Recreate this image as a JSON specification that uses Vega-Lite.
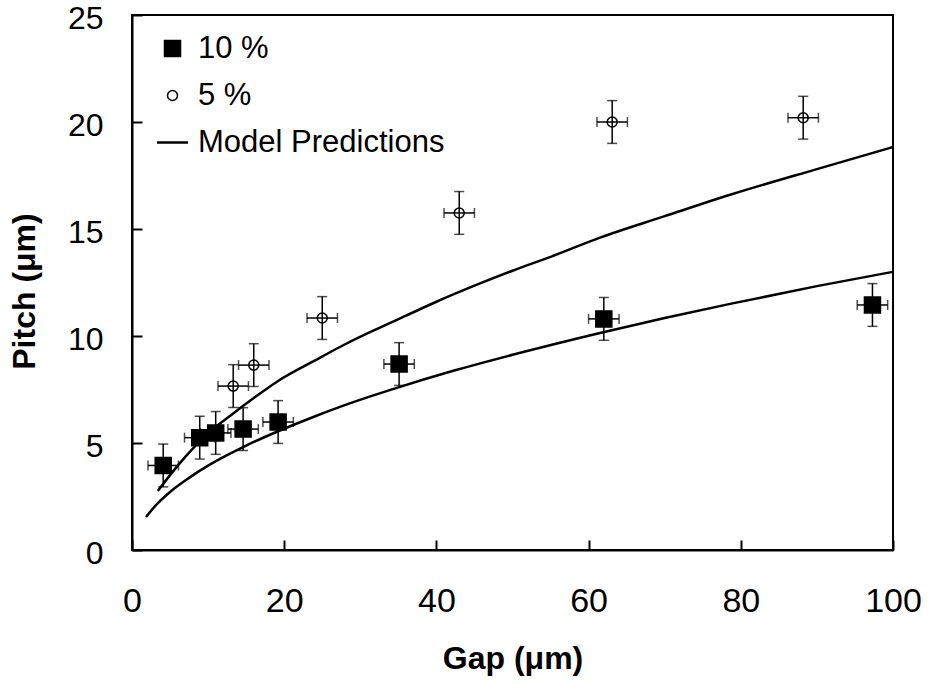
{
  "$schema": "https://vega.github.io/schema/vega-lite/v6.json",
  "width": 761,
  "height": 535,
  "autosize": {"type": "none"},
  "padding": {"left": 132, "top": 15, "right": 36, "bottom": 134},
  "background": "white",
  "config": {
    "view": {"stroke": "black", "strokeWidth": 2},
    "font": "Liberation Sans",
    "axis": {
      "grid": false,
      "domainColor": "black",
      "domainWidth": 2,
      "tickColor": "black",
      "tickWidth": 2,
      "tickSize": -10,
      "labelFlush": false,
      "labelFont": "Liberation Sans",
      "labelFontSize": 34,
      "labelColor": "black",
      "titleFont": "Liberation Sans",
      "titleFontSize": 32,
      "titleFontWeight": "bold",
      "titleColor": "black"
    },
    "legend": {
      "orient": "none",
      "legendX": 25,
      "legendY": 18,
      "labelFont": "Liberation Sans",
      "labelFontSize": 31,
      "labelColor": "black",
      "labelOffset": 10,
      "labelLimit": 500,
      "rowPadding": 15,
      "symbolStrokeColor": "black",
      "symbolStrokeWidth": 2,
      "symbolOpacity": 1,
      "title": null
    }
  },
  "datasets": {
    "points": [
      {"series": "10 %", "gap": 4.1, "pitch": 3.95, "gap_lo": 2.1, "gap_hi": 6.1, "pitch_lo": 2.95, "pitch_hi": 4.95},
      {"series": "10 %", "gap": 8.9, "pitch": 5.25, "gap_lo": 6.9, "gap_hi": 10.9, "pitch_lo": 4.25, "pitch_hi": 6.25},
      {"series": "10 %", "gap": 11.0, "pitch": 5.47, "gap_lo": 9.0, "gap_hi": 13.0, "pitch_lo": 4.47, "pitch_hi": 6.47},
      {"series": "10 %", "gap": 14.6, "pitch": 5.65, "gap_lo": 12.6, "gap_hi": 16.6, "pitch_lo": 4.65, "pitch_hi": 6.65},
      {"series": "10 %", "gap": 19.2, "pitch": 5.98, "gap_lo": 17.2, "gap_hi": 21.2, "pitch_lo": 4.98, "pitch_hi": 6.98},
      {"series": "10 %", "gap": 35.1, "pitch": 8.69, "gap_lo": 33.1, "gap_hi": 37.1, "pitch_lo": 7.69, "pitch_hi": 9.69},
      {"series": "10 %", "gap": 62.0, "pitch": 10.8, "gap_lo": 60.0, "gap_hi": 64.0, "pitch_lo": 9.8, "pitch_hi": 11.8},
      {"series": "10 %", "gap": 97.3, "pitch": 11.45, "gap_lo": 95.3, "gap_hi": 99.3, "pitch_lo": 10.45, "pitch_hi": 12.45},
      {"series": "5 %", "gap": 13.3, "pitch": 7.66, "gap_lo": 11.3, "gap_hi": 15.3, "pitch_lo": 6.66, "pitch_hi": 8.66},
      {"series": "5 %", "gap": 16.0, "pitch": 8.64, "gap_lo": 14.0, "gap_hi": 18.0, "pitch_lo": 7.64, "pitch_hi": 9.64},
      {"series": "5 %", "gap": 25.0, "pitch": 10.84, "gap_lo": 23.0, "gap_hi": 27.0, "pitch_lo": 9.84, "pitch_hi": 11.84},
      {"series": "5 %", "gap": 43.0, "pitch": 15.75, "gap_lo": 41.0, "gap_hi": 45.0, "pitch_lo": 14.75, "pitch_hi": 16.75},
      {"series": "5 %", "gap": 63.1, "pitch": 20.0, "gap_lo": 61.1, "gap_hi": 65.1, "pitch_lo": 19.0, "pitch_hi": 21.0},
      {"series": "5 %", "gap": 88.2, "pitch": 20.2, "gap_lo": 86.2, "gap_hi": 90.2, "pitch_lo": 19.2, "pitch_hi": 21.2}
    ],
    "model": [
      {"curve": "upper", "gap": 3.4, "pitch": 2.76},
      {"curve": "upper", "gap": 5, "pitch": 3.5},
      {"curve": "upper", "gap": 7, "pitch": 4.35},
      {"curve": "upper", "gap": 10, "pitch": 5.45},
      {"curve": "upper", "gap": 13, "pitch": 6.3},
      {"curve": "upper", "gap": 16, "pitch": 7.1},
      {"curve": "upper", "gap": 19.2, "pitch": 7.9},
      {"curve": "upper", "gap": 24, "pitch": 8.85},
      {"curve": "upper", "gap": 28.2, "pitch": 9.65},
      {"curve": "upper", "gap": 32, "pitch": 10.3},
      {"curve": "upper", "gap": 36, "pitch": 10.95},
      {"curve": "upper", "gap": 40, "pitch": 11.6},
      {"curve": "upper", "gap": 45, "pitch": 12.35},
      {"curve": "upper", "gap": 50, "pitch": 13.05},
      {"curve": "upper", "gap": 55, "pitch": 13.7},
      {"curve": "upper", "gap": 61.5, "pitch": 14.6},
      {"curve": "upper", "gap": 70, "pitch": 15.6},
      {"curve": "upper", "gap": 78.6, "pitch": 16.6},
      {"curve": "upper", "gap": 90, "pitch": 17.8},
      {"curve": "upper", "gap": 100, "pitch": 18.83},
      {"curve": "lower", "gap": 1.84, "pitch": 1.54},
      {"curve": "lower", "gap": 3, "pitch": 2.04},
      {"curve": "lower", "gap": 5, "pitch": 2.71},
      {"curve": "lower", "gap": 7.5, "pitch": 3.37},
      {"curve": "lower", "gap": 10, "pitch": 3.94},
      {"curve": "lower", "gap": 12.5, "pitch": 4.43},
      {"curve": "lower", "gap": 15, "pitch": 4.88},
      {"curve": "lower", "gap": 19.2, "pitch": 5.55},
      {"curve": "lower", "gap": 24, "pitch": 6.24},
      {"curve": "lower", "gap": 28.6, "pitch": 6.85},
      {"curve": "lower", "gap": 35, "pitch": 7.6},
      {"curve": "lower", "gap": 42, "pitch": 8.35},
      {"curve": "lower", "gap": 50, "pitch": 9.12},
      {"curve": "lower", "gap": 61.5, "pitch": 10.14},
      {"curve": "lower", "gap": 70, "pitch": 10.84},
      {"curve": "lower", "gap": 78.6, "pitch": 11.5},
      {"curve": "lower", "gap": 90, "pitch": 12.33},
      {"curve": "lower", "gap": 100, "pitch": 13.0}
    ]
  },
  "layer": [
    {
      "data": {"name": "model"},
      "mark": {"type": "line", "color": "black", "strokeWidth": 2.5, "interpolate": "monotone"},
      "encoding": {
        "x": {"field": "gap", "type": "quantitative", "scale": {"domain": [0, 100], "nice": false, "zero": false}, "axis": {"values": [0, 20, 40, 60, 80, 100], "title": "Gap (μm)", "labelPadding": 44, "titlePadding": 25}},
        "y": {"field": "pitch", "type": "quantitative", "scale": {"domain": [0, 25], "nice": false, "zero": false}, "axis": {"values": [0, 5, 10, 15, 20, 25], "title": "Pitch (μm)", "labelFontSize": 32, "labelPadding": 39, "labelOffset": 3, "titlePadding": 26, "titleY": 276}},
        "detail": {"field": "curve"}
      }
    },
    {
      "data": {"name": "points"},
      "mark": {"type": "rule", "color": "black", "strokeWidth": 1.5},
      "encoding": {
        "x": {"field": "gap", "type": "quantitative"},
        "y": {"field": "pitch_lo", "type": "quantitative"},
        "y2": {"field": "pitch_hi"}
      }
    },
    {
      "data": {"name": "points"},
      "mark": {"type": "rule", "color": "black", "strokeWidth": 1.5},
      "encoding": {
        "x": {"field": "gap_lo", "type": "quantitative"},
        "x2": {"field": "gap_hi"},
        "y": {"field": "pitch", "type": "quantitative"}
      }
    },
    {
      "data": {"name": "points"},
      "mark": {"type": "tick", "orient": "horizontal", "color": "black", "size": 10, "thickness": 1.5},
      "encoding": {
        "x": {"field": "gap", "type": "quantitative"},
        "y": {"field": "pitch_lo", "type": "quantitative"}
      }
    },
    {
      "data": {"name": "points"},
      "mark": {"type": "tick", "orient": "horizontal", "color": "black", "size": 10, "thickness": 1.5},
      "encoding": {
        "x": {"field": "gap", "type": "quantitative"},
        "y": {"field": "pitch_hi", "type": "quantitative"}
      }
    },
    {
      "data": {"name": "points"},
      "mark": {"type": "tick", "orient": "vertical", "color": "black", "size": 10, "thickness": 1.5},
      "encoding": {
        "x": {"field": "gap_lo", "type": "quantitative"},
        "y": {"field": "pitch", "type": "quantitative"}
      }
    },
    {
      "data": {"name": "points"},
      "mark": {"type": "tick", "orient": "vertical", "color": "black", "size": 10, "thickness": 1.5},
      "encoding": {
        "x": {"field": "gap_hi", "type": "quantitative"},
        "y": {"field": "pitch", "type": "quantitative"}
      }
    },
    {
      "data": {"name": "points"},
      "mark": {"type": "point", "stroke": "black", "strokeWidth": 1.5, "opacity": 1, "filled": false},
      "encoding": {
        "x": {"field": "gap", "type": "quantitative"},
        "y": {"field": "pitch", "type": "quantitative"},
        "shape": {"field": "series", "type": "nominal", "scale": {"domain": ["10 %", "5 %", "Model Predictions"], "range": ["square", "circle", "stroke"]}},
        "fill": {"field": "series", "type": "nominal", "scale": {"domain": ["10 %", "5 %", "Model Predictions"], "range": ["black", "transparent", "black"]},
          "legend": {"encode": {"symbols": {"update": {"stroke": {"value": "black"}, "strokeWidth": {"signal": "datum.value === 'Model Predictions' ? 2.5 : 1.5"}, "opacity": {"value": 1}, "strokeOpacity": {"value": 1}}}}}},
        "size": {"field": "series", "type": "nominal", "scale": {"type": "ordinal", "domain": ["10 %", "5 %", "Model Predictions"], "range": [256, 100, 961]}}
      }
    }
  ]
}
